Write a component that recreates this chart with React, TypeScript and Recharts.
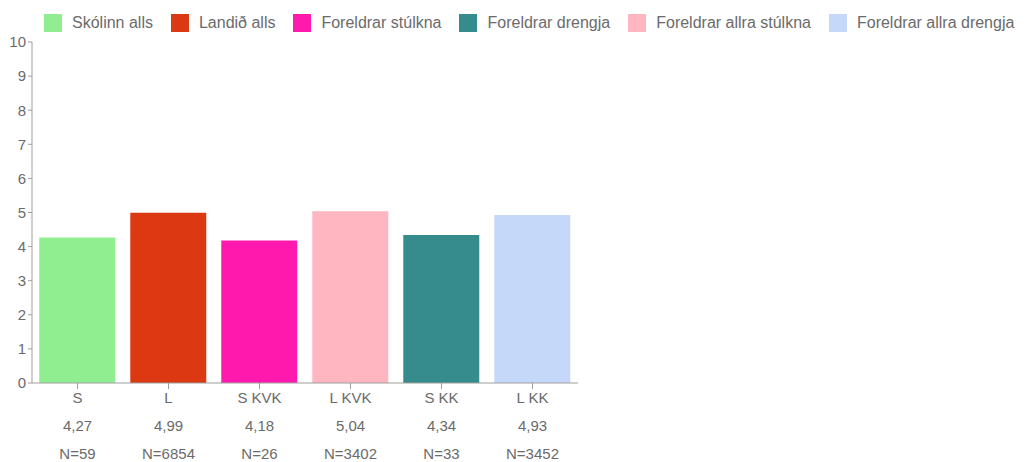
import { BarChart, Bar, XAxis, YAxis, Cell } from "recharts";

const categories = ["S", "L", "S KVK", "L KVK", "S KK", "L KK"];
const means = [4.27, 4.99, 4.18, 5.04, 4.34, 4.93];
const meanLabels = ["4,27", "4,99", "4,18", "5,04", "4,34", "4,93"];
const counts = [59, 6854, 26, 3402, 33, 3452];
const barColors = ["#90ee90", "#dc3912", "#ff1aad", "#ffb6c1", "#368c8c", "#c6d8fa"];

const legendNames = [
  "Skólinn alls",
  "Landið alls",
  "Foreldrar stúlkna",
  "Foreldrar drengja",
  "Foreldrar allra stúlkna",
  "Foreldrar allra drengja",
];
const legendColors = ["#90ee90", "#dc3912", "#ff1aad", "#368c8c", "#ffb6c1", "#c6d8fa"];
const yTicks = [0, 1, 2, 3, 4, 5, 6, 7, 8, 9, 10];

const data = categories.map((c, i) => ({ name: c, value: means[i] }));

const FONT = "'Liberation Sans', Arial, sans-serif";
const TEXT = "#6b6b6b";

const CategoryTick = (props: any) => {
  const { x, y, payload } = props;
  const i = categories.indexOf(payload.value);
  return (
    <g>
      <text x={x} y={y + 12} textAnchor="middle" fill={TEXT} fontSize={15} fontFamily={FONT}>
        {payload.value}
      </text>
      <text x={x} y={y + 40} textAnchor="middle" fill={TEXT} fontSize={15} fontFamily={FONT}>
        {meanLabels[i]}
      </text>
      <text x={x} y={y + 68} textAnchor="middle" fill={TEXT} fontSize={15} fontFamily={FONT}>
        {"N=" + counts[i]}
      </text>
    </g>
  );
};

export default function App() {
  return (
    <div style={{ position: "relative", width: 1011, height: 454, fontFamily: FONT }}>
      <div
        style={{
          position: "absolute",
          left: 36,
          top: 6,
          display: "flex",
          alignItems: "center",
          fontSize: 16,
          color: TEXT,
          whiteSpace: "nowrap",
        }}
      >
        {legendNames.map((n, i) => (
          <div
            key={n}
            style={{ display: "flex", alignItems: "center", marginRight: i < legendNames.length - 1 ? 18 : 0 }}
          >
            <span
              style={{
                display: "inline-block",
                width: 18,
                height: 18,
                background: legendColors[i],
                marginRight: 10,
              }}
            />
            <span>{n}</span>
          </div>
        ))}
      </div>
      <BarChart
        width={1011}
        height={454}
        data={data}
        margin={{ top: 34, right: 441, bottom: 0, left: 0 }}
        barCategoryGap="8%"
      >
        <XAxis
          dataKey="name"
          stroke="#9e9e9e"
          tickSize={6}
          tickMargin={2}
          height={79}
          interval={0}
          tick={<CategoryTick />}
        />
        <YAxis
          domain={[0, 10]}
          ticks={yTicks}
          width={24}
          stroke="#9e9e9e"
          tickSize={4}
          tickMargin={2}
          interval={0}
          tick={{ fill: TEXT, fontSize: 15, fontFamily: FONT }}
        />
        <Bar dataKey="value" isAnimationActive={false}>
          {data.map((d, i) => (
            <Cell key={d.name} fill={barColors[i]} />
          ))}
        </Bar>
      </BarChart>
    </div>
  );
}
